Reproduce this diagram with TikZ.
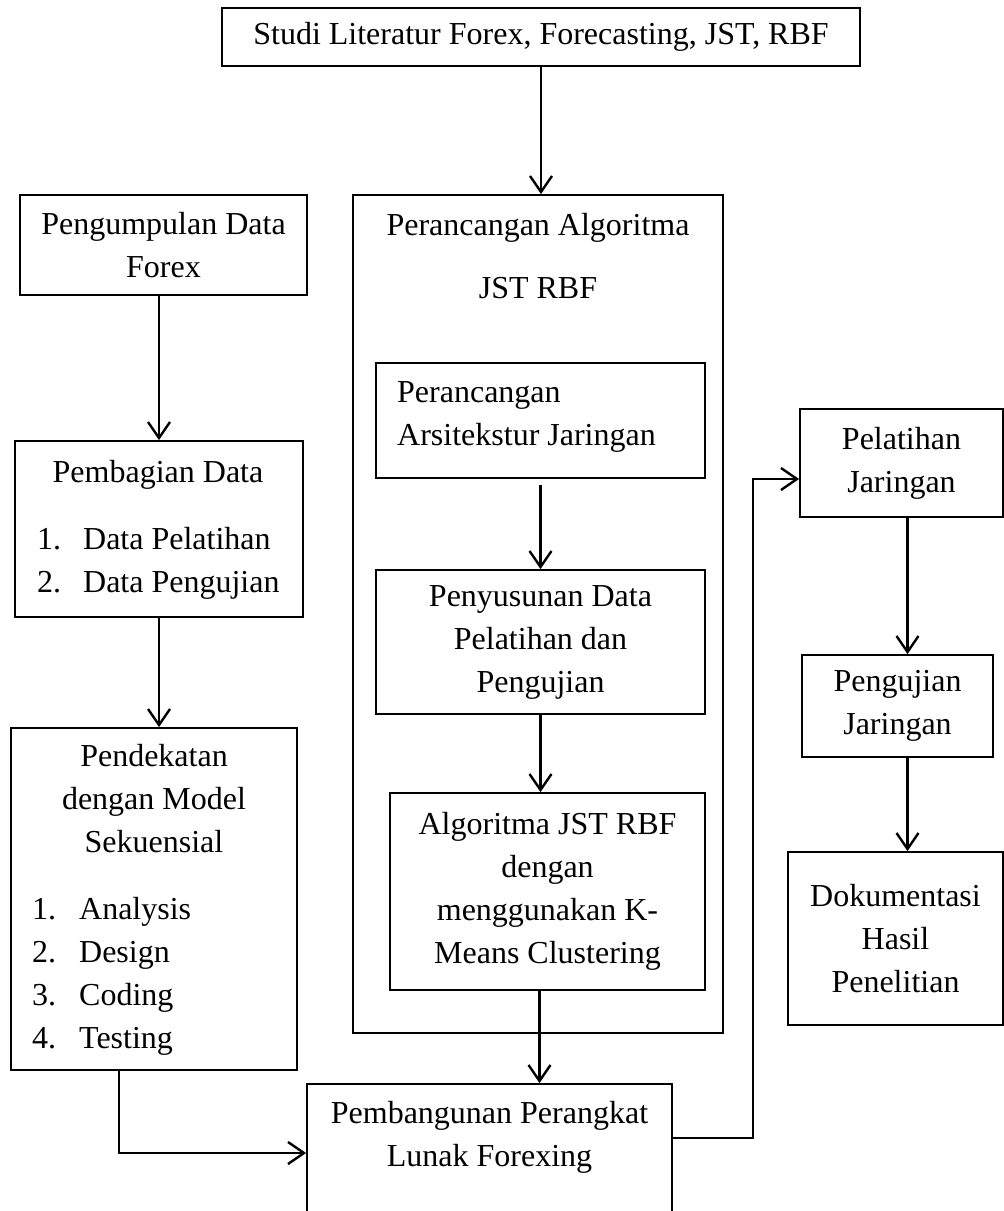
\documentclass[tikz,border=0pt]{standalone}
\usepackage{fontspec}
\setmainfont{Liberation Serif}
\usetikzlibrary{arrows.meta}

\tikzset{
    box/.style = {draw, line width=1.8pt, inner sep=0pt, align=center},
    txt/.style = {inner sep=0pt},
    flow/.style = {line width=2.4pt, -{Straight Barb[length=16pt, width=22pt]}}
}

\begin{document}
\begin{tikzpicture}[x=1pt, y=-1pt, font=\fontsize{32}{43}\selectfont]
    \useasboundingbox (0,0) rectangle (1004,1211);
    \clip (0,0) rectangle (1004,1211);

    % middle column
    \node[box, minimum width=638, minimum height=58] (lit) at (541,37) {Studi Literatur Forex, Forecasting, JST, RBF};
    \node[box, minimum width=370, minimum height=838] (design) at (538,614) {};
    \node[txt, anchor=base, align=center] (designtxt) at (538,298) {Perancangan Algoritma\\[20pt]JST RBF};
    \node[box, minimum width=329, minimum height=115] (arch) at (540.5,420.5) {};
    \node[txt, anchor=base west, align=left] (archtxt) at (397,445) {Perancangan\\Arsitekstur Jaringan};
    \node[box, minimum width=329, minimum height=144] (prep) at (540.5,642) {Penyusunan Data\\Pelatihan dan\\Pengujian};
    \node[box, minimum width=315, minimum height=197] (algo) at (547.5,891.5) {Algoritma JST RBF\\dengan\\menggunakan K-\\Means Clustering};
    \node[box, minimum width=365, minimum height=176] (build) at (489.5,1172) {};
    \node[txt, anchor=base, align=center] (buildtxt) at (489.5,1166) {Pembangunan Perangkat\\Lunak Forexing};

    % left column
    \node[box, minimum width=287, minimum height=100] (collect) at (163.5,245) {Pengumpulan Data\\Forex};
    \node[box, minimum width=288, minimum height=176] (split) at (159,529) {};
    \node[txt, anchor=base] (splithead) at (158,482) {Pembagian Data};
    \node[txt, anchor=base west, align=left] (splitlist) at (37,592) {\makebox[46pt][l]{1.}Data Pelatihan\\\makebox[46pt][l]{2.}Data Pengujian};
    \node[box, minimum width=286, minimum height=342] (seq) at (154,899) {};
    \node[txt, anchor=base, align=center] (seqhead) at (154,852) {Pendekatan\\dengan Model\\Sekuensial};
    \node[txt, anchor=base west, align=left] (seqlist) at (32,1048) {\makebox[47pt][l]{1.}Analysis\\\makebox[47pt][l]{2.}Design\\\makebox[47pt][l]{3.}Coding\\\makebox[47pt][l]{4.}Testing};

    % right column
    \node[box, minimum width=203, minimum height=108] (train) at (901.5,463) {Pelatihan\\Jaringan};
    \node[box, minimum width=191, minimum height=102] (test) at (897.5,706) {Pengujian\\Jaringan};
    \node[box, minimum width=215, minimum height=173] (doc) at (895.5,938.5) {Dokumentasi\\Hasil\\Penelitian};

    % arrows
    \draw[flow] (lit.south) -- (lit.south |- design.north);
    \draw[flow] (collect.south -| split.north) -- (split.north);
    \draw[flow] (split.south) -- (split.south |- seq.north);
    \draw[flow] ([xshift=-35pt]seq.south) |- ([yshift=19pt]build.west);
    \draw[flow, shorten <=6pt] (arch.south) -- (prep.north);
    \draw[flow] (prep.south) -- (prep.south |- algo.north);
    \draw[flow] ([xshift=-8pt]algo.south) -- ([xshift=-8pt]algo.south |- build.north);
    \draw[flow] ([yshift=34pt]build.east) -| ([xshift=-46pt, yshift=-16pt]train.west) -- ([yshift=-16pt]train.west);
    \draw[flow] ([xshift=10pt]test.north |- train.south) -- ([xshift=10pt]test.north);
    \draw[flow] ([xshift=10pt]test.south) -- ([xshift=10pt]test.south |- doc.north);
\end{tikzpicture}
\end{document}
